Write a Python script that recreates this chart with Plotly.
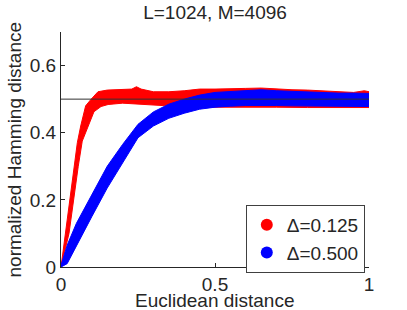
import plotly.graph_objects as go

# ---- data ----
title_text = "L=1024, M=4096"
x_label = "Euclidean distance"
y_label = "normalized Hamming distance"
ref_level = 0.5

# red band (Delta=0.125): upper edge and lower edge
red_up_x = [0.0, 0.014, 0.028, 0.042, 0.053, 0.064, 0.08, 0.098, 0.12, 0.15, 0.2, 0.23, 0.245, 0.26,
            0.3, 0.35, 0.4, 0.45, 0.5, 0.55, 0.6, 0.65, 0.7, 0.75, 0.8, 0.85, 0.9, 0.95, 0.985, 1.0]
red_up_y = [0.0, 0.1, 0.2, 0.3, 0.37, 0.42, 0.48, 0.5, 0.522, 0.527, 0.528, 0.53, 0.537, 0.53,
            0.522, 0.522, 0.525, 0.53, 0.53, 0.53, 0.532, 0.533, 0.53, 0.528, 0.527, 0.525, 0.522, 0.52, 0.525, 0.522]
red_lo_x = [0.0, 0.026, 0.042, 0.056, 0.069, 0.09, 0.107, 0.13, 0.153, 0.2, 0.25, 0.3, 0.35, 0.4,
            0.5, 0.6, 0.7, 0.8, 0.9, 1.0]
red_lo_y = [0.0, 0.1, 0.2, 0.3, 0.375, 0.423, 0.4625, 0.478, 0.484, 0.488, 0.486, 0.484, 0.48, 0.477,
            0.476, 0.475, 0.476, 0.475, 0.474, 0.475]

# blue band (Delta=0.500): upper edge and lower edge
blue_x = [0.0, 0.02, 0.05, 0.1, 0.15, 0.2, 0.25, 0.3, 0.35, 0.4, 0.45, 0.5, 0.55, 0.6, 0.65, 0.7,
          0.75, 0.8, 0.85, 0.9, 0.95, 1.0]
blue_up_y = [0.005, 0.065, 0.13, 0.215, 0.3, 0.365, 0.425, 0.462, 0.485, 0.5, 0.512, 0.52, 0.523, 0.527,
             0.528, 0.525, 0.523, 0.522, 0.52, 0.518, 0.518, 0.517]
blue_lo_y = [0.0, 0.01, 0.065, 0.15, 0.235, 0.31, 0.385, 0.42, 0.443, 0.458, 0.47, 0.476, 0.479, 0.481,
             0.482, 0.481, 0.48, 0.48, 0.479, 0.478, 0.478, 0.478]

series_names = ["\u0394=0.125", "\u0394=0.500"]
series_colors = ["#ff0000", "#0000ff"]

x_ticks = [0, 0.5, 1]
x_ticktext = ["0", "0.5", "1"]
y_ticks = [0, 0.2, 0.4, 0.6]
y_ticktext = ["0", "0.2", "0.4", "0.6"]

FONT = "Liberation Sans, Arial, sans-serif"
TXT = "#262626"
W, H = 407, 310
L, R, T, B = 61, 38, 32, 43

fig = go.Figure()

# bands as closed polygons
fig.add_trace(go.Scatter(
    x=red_up_x + red_lo_x[::-1], y=red_up_y + red_lo_y[::-1],
    fill="toself", fillcolor=series_colors[0], mode="lines",
    line=dict(color=series_colors[0], width=1), showlegend=False, hoverinfo="skip"))
fig.add_trace(go.Scatter(
    x=blue_x + blue_x[::-1], y=blue_up_y + blue_lo_y[::-1],
    fill="toself", fillcolor=series_colors[1], mode="lines",
    line=dict(color=series_colors[1], width=1), showlegend=False, hoverinfo="skip"))

# legend entries
for name, col in zip(series_names, series_colors):
    fig.add_trace(go.Scatter(x=[None], y=[None], mode="markers", name=name,
                             marker=dict(color=col, size=10, symbol="circle")))

fig.add_hline(y=ref_level, line=dict(color="#303030", width=1), layer="above")

pw, ph = W - L - R, H - T - B
fig.add_annotation(text=x_label, xref="paper", yref="paper",
                   x=0.5, y=-(300 - (H - B)) / ph, xanchor="center", yanchor="middle",
                   showarrow=False, font=dict(family=FONT, size=19, color=TXT))
fig.add_annotation(text=y_label, xref="paper", yref="paper", textangle=-90,
                   x=-(L - 14) / pw, y=0.5, xanchor="center", yanchor="middle",
                   showarrow=False, font=dict(family=FONT, size=19, color=TXT))

fig.update_layout(
    width=W, height=H,
    margin=dict(l=L, r=R, t=T, b=B, autoexpand=False),
    paper_bgcolor="white", plot_bgcolor="white",
    font=dict(family=FONT, size=19, color=TXT),
    title=dict(text=title_text, x=(L + W - R) / 2 / W, xanchor="center",
               y=1 - 12 / H, yanchor="middle", yref="container",
               font=dict(family=FONT, size=19, color=TXT)),
    showlegend=True,
    legend=dict(x=0.6, y=0.264, xanchor="left", yanchor="top",
                bordercolor="#404040", borderwidth=1, bgcolor="white",
                font=dict(family=FONT, size=19, color=TXT), itemsizing="constant"),
)
fig.update_xaxes(range=[0, 1], tickvals=x_ticks, ticktext=x_ticktext,
                 tickfont=dict(family=FONT, size=19, color=TXT), automargin=False,
                 showline=True, linecolor=TXT, linewidth=1,
                 ticks="inside", ticklen=4, tickcolor=TXT,
                 showgrid=False, zeroline=False, mirror=False)
fig.update_yaxes(range=[0, 0.7], tickvals=y_ticks, ticktext=y_ticktext,
                 tickfont=dict(family=FONT, size=19, color=TXT), automargin=False,
                 showline=True, linecolor=TXT, linewidth=1,
                 ticks="inside", ticklen=4, tickcolor=TXT,
                 showgrid=False, zeroline=False, mirror=False)

fig.write_html("out.html", config={"displayModeBar": False},
               post_script="document.body.style.margin='0';document.body.style.padding='0';")
